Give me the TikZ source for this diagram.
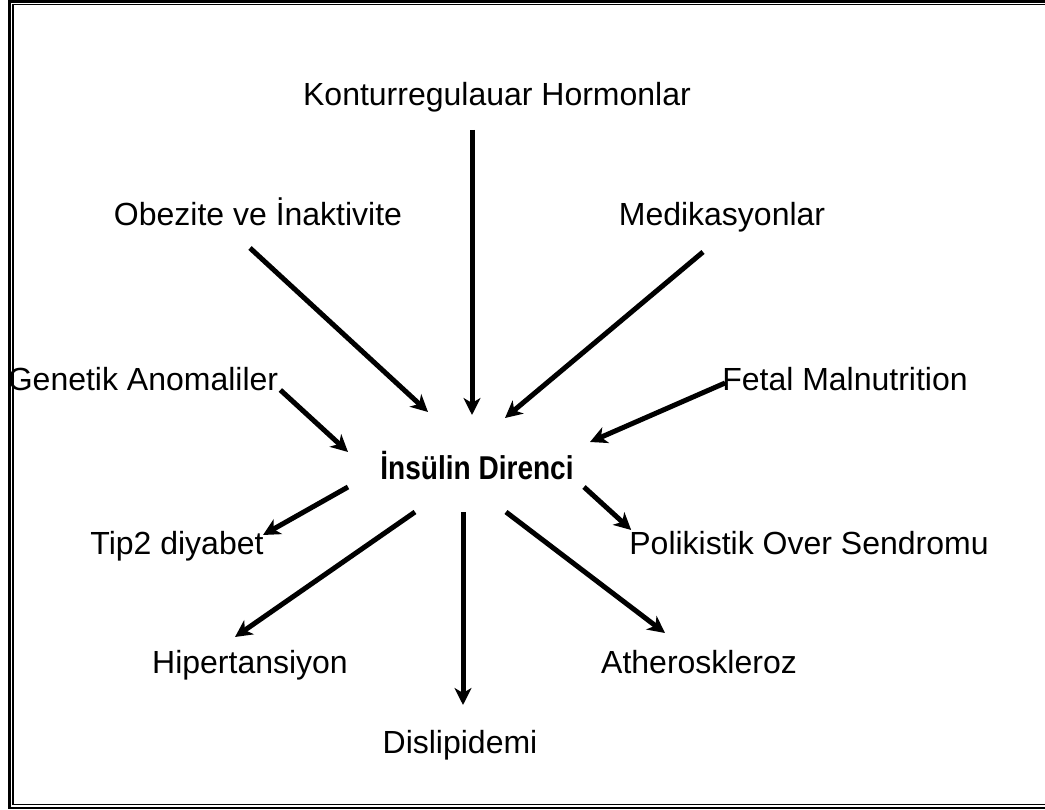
\documentclass[tikz,border=0pt]{standalone}
\usepackage{fontspec}
\setmainfont{Liberation Sans}
\usetikzlibrary{arrows.meta}

\begin{document}
\begin{tikzpicture}[x=1pt,y=-1pt,
    lbl/.style={inner sep=0pt,text height=22pt,text depth=6pt,font=\fontsize{32}{38}\selectfont},
    hub/.style={inner sep=0pt,text height=25pt,text depth=0pt,font=\fontsize{33}{38}\selectfont\bfseries},
    arr/.style={line width=5pt,-{Stealth[length=17pt,width=17pt,inset=5pt]}}]
\useasboundingbox (0,0) rectangle (1045,810);
% frame
\draw[line width=2.5pt] (9.5,1.5) rectangle (1060,808);
\draw[line width=1.5pt] (13,4.5) rectangle (1056,804.5);

\node[hub] (ins) at (477,467) {\scalebox{0.85}[1]{İnsülin Direnci}};

\node[lbl] (kontur) at (497,98) {Konturregulauar Hormonlar};
\node[lbl] (obez) at (258,218) {Obezite ve İnaktivite};
\node[lbl] (medik) at (722,218) {Medikasyonlar};
\node[lbl] (genet) at (143,383) {Genetik Anomaliler};
\node[lbl] (fetal) at (845,383) {Fetal Malnutrition};
\node[lbl] (tip) at (177,546) {Tip2 diyabet};
\node[lbl] (polik) at (809,546) {Polikistik Over Sendromu};
\node[lbl] (hiper) at (250,665) {Hipertansiyon};
\node[lbl] (ather) at (699,665) {Atheroskleroz};
\node[lbl] (disli) at (460,745) {Dislipidemi};

% causes
\path[arr]
    ([shift={(-25,32)}]kontur.center) edge ([shift={(-5,-52)}]ins.center)
    ([shift={(-8,30)}]obez.center) edge ([shift={(-49,-55)}]ins.center)
    ([shift={(-19,34)}]medik.center) edge ([shift={(28,-49)}]ins.center)
    ([shift={(2,7)}]genet.east) edge ([shift={(-129,-15)}]ins.center)
    ([shift={(3,0)}]fetal.west) edge ([shift={(113,-25)}]ins.center);
% results
\path[arr]
    ([shift={(-129,20)}]ins.center) edge ([shift={(86,-11)}]tip.center)
    ([shift={(107,20)}]ins.center) edge ([shift={(2,-16)}]polik.west)
    ([shift={(-62,45)}]ins.center) edge ([shift={(-15,-28)}]hiper.center)
    ([shift={(-14,45)}]ins.center) edge ([shift={(3,-40)}]disli.center)
    ([shift={(29,45)}]ins.center) edge ([shift={(-34,-32)}]ather.center);
\end{tikzpicture}
\end{document}
